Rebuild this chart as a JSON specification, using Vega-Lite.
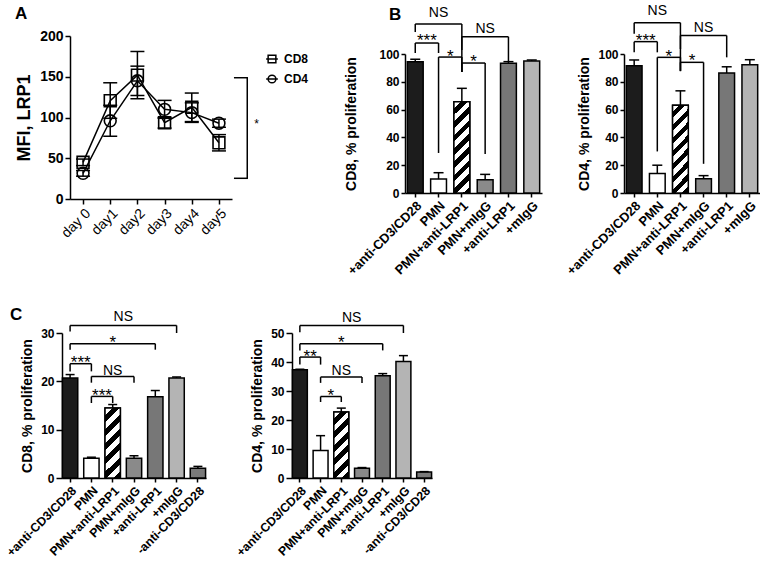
{
  "$schema": "https://vega.github.io/schema/vega-lite/v6.json",
  "padding": {"left": 4, "top": 4, "right": 0, "bottom": 1},
  "background": "white",
  "config": {
    "font": "Liberation Sans",
    "view": {"stroke": null},
    "axis": {"grid": false, "labelOverlap": false, "domainColor": "black", "domainWidth": 1.5, "tickColor": "black", "tickWidth": 1.5, "labelColor": "black", "labelFont": "Liberation Sans", "labelFontWeight": "bold", "labelFontSize": 12, "labelPadding": 2, "titleColor": "black", "titleFont": "Liberation Sans", "titleFontWeight": "bold", "titleFontSize": 14, "titlePadding": 6},
    "title": {"color": "black", "font": "Liberation Sans", "fontWeight": "bold", "fontSize": 17, "anchor": "start", "frame": "group"}
  },
  "datasets": {
    "lineA": [
      {"day": "day 0", "cell": "CD8", "mean": 45, "lo": 41, "hi": 49},
      {"day": "day1", "cell": "CD8", "mean": 120.6, "lo": 99, "hi": 142.6},
      {"day": "day2", "cell": "CD8", "mean": 152, "lo": 123, "hi": 181},
      {"day": "day3", "cell": "CD8", "mean": 93.6, "lo": 87, "hi": 100},
      {"day": "day4", "cell": "CD8", "mean": 112.5, "lo": 95, "hi": 130},
      {"day": "day5", "cell": "CD8", "mean": 69, "lo": 59, "hi": 79},
      {"day": "day 0", "cell": "CD4", "mean": 31.5, "lo": 28, "hi": 35},
      {"day": "day1", "cell": "CD4", "mean": 96, "lo": 77, "hi": 115},
      {"day": "day2", "cell": "CD4", "mean": 145, "lo": 127, "hi": 163},
      {"day": "day3", "cell": "CD4", "mean": 110, "lo": 99, "hi": 121},
      {"day": "day4", "cell": "CD4", "mean": 106, "lo": 94, "hi": 118},
      {"day": "day5", "cell": "CD4", "mean": 93, "lo": 88, "hi": 98}
    ],
    "brA": [{"day": "day5", "top": 148.8, "bot": 25.4, "label": "*", "ly": 86.6}],
    "barsB1": [
      {"cond": "+anti-CD3/CD28", "mean": 94.5, "hi": 96.2},
      {"cond": "PMN", "mean": 10, "hi": 14.6},
      {"cond": "PMN+anti-LRP1", "mean": 65.7, "hi": 75.3},
      {"cond": "PMN+mIgG", "mean": 9.6, "hi": 13.4},
      {"cond": "+anti-LRP1", "mean": 93.3, "hi": 94.5},
      {"cond": "+mIgG", "mean": 95, "hi": 95.7}
    ],
    "brB1": [
      {"a": "+anti-CD3/CD28", "b": "PMN+anti-LRP1", "top": 121.6, "la": 115.8, "lb": 87, "label": "NS", "mid": "PMN", "half": false, "ly": 126.8},
      {"a": "+anti-CD3/CD28", "b": "PMN", "top": 107.9, "la": 100.7, "lb": 100.7, "label": "***", "mid": "+anti-CD3/CD28", "half": true, "ly": 105.5},
      {"a": "PMN", "b": "PMN+anti-LRP1", "top": 97.8, "la": 28.8, "lb": 87, "label": "*", "mid": "PMN", "half": true, "ly": 94.2},
      {"a": "PMN+anti-LRP1", "b": "+anti-LRP1", "top": 112.4, "la": 102.9, "lb": 94.5, "label": "NS", "mid": "PMN+mIgG", "half": false, "ly": 115.3},
      {"a": "PMN+anti-LRP1", "b": "PMN+mIgG", "top": 93.5, "la": 87, "lb": 28, "label": "*", "mid": "PMN+anti-LRP1", "half": true, "ly": 90.6}
    ],
    "barsB2": [
      {"cond": "+anti-CD3/CD28", "mean": 91.5, "hi": 95.7},
      {"cond": "PMN", "mean": 14, "hi": 20},
      {"cond": "PMN+anti-LRP1", "mean": 63.1, "hi": 73.5},
      {"cond": "PMN+mIgG", "mean": 10.3, "hi": 12.5},
      {"cond": "+anti-LRP1", "mean": 86.3, "hi": 90.8},
      {"cond": "+mIgG", "mean": 92.3, "hi": 95.9}
    ],
    "brB2": [
      {"a": "+anti-CD3/CD28", "b": "PMN+anti-LRP1", "top": 122.5, "la": 114.5, "lb": 87.6, "label": "NS", "mid": "PMN", "half": false, "ly": 127.8},
      {"a": "+anti-CD3/CD28", "b": "PMN", "top": 108.9, "la": 101.2, "lb": 101.2, "label": "***", "mid": "+anti-CD3/CD28", "half": true, "ly": 105.8},
      {"a": "PMN", "b": "PMN+anti-LRP1", "top": 97.6, "la": 29.9, "lb": 87.9, "label": "*", "mid": "PMN", "half": true, "ly": 94.2},
      {"a": "PMN+anti-LRP1", "b": "+anti-LRP1", "top": 113.3, "la": 103.6, "lb": 97.6, "label": "NS", "mid": "PMN+mIgG", "half": false, "ly": 115.7},
      {"a": "PMN+anti-LRP1", "b": "PMN+mIgG", "top": 94, "la": 87.9, "lb": 21, "label": "*", "mid": "PMN+anti-LRP1", "half": true, "ly": 91.3}
    ],
    "barsC1": [
      {"cond": "+anti-CD3/CD28", "mean": 20.7, "hi": 21.4},
      {"cond": "PMN", "mean": 4.1, "hi": 4.3},
      {"cond": "PMN+anti-LRP1", "mean": 14.5, "hi": 15.2},
      {"cond": "PMN+mIgG", "mean": 4.1, "hi": 4.6},
      {"cond": "+anti-LRP1", "mean": 16.8, "hi": 18.1},
      {"cond": "+mIgG", "mean": 20.7, "hi": 20.9},
      {"cond": "-anti-CD3/CD28", "mean": 2.0, "hi": 2.4}
    ],
    "brC1": [
      {"a": "+anti-CD3/CD28", "b": "+mIgG", "top": 31.57, "la": 30.33, "lb": 30.0, "label": "NS", "mid": "PMN+anti-LRP1", "half": true, "ly": 32.4},
      {"a": "+anti-CD3/CD28", "b": "+anti-LRP1", "top": 27.79, "la": 26.55, "lb": 26.55, "label": "*", "mid": "PMN+anti-LRP1", "half": false, "ly": 27.0},
      {"a": "+anti-CD3/CD28", "b": "PMN", "top": 23.65, "la": 22.06, "lb": 22.06, "label": "***", "mid": "+anti-CD3/CD28", "half": true, "ly": 22.8},
      {"a": "PMN", "b": "PMN+mIgG", "top": 21.02, "la": 19.72, "lb": 19.72, "label": "NS", "mid": "PMN+anti-LRP1", "half": false, "ly": 21.4},
      {"a": "PMN", "b": "PMN+anti-LRP1", "top": 16.88, "la": 15.52, "lb": 15.52, "label": "***", "mid": "PMN", "half": true, "ly": 16.0}
    ],
    "barsC2": [
      {"cond": "+anti-CD3/CD28", "mean": 37.3, "hi": 37.5},
      {"cond": "PMN", "mean": 9.5, "hi": 14.6},
      {"cond": "PMN+anti-LRP1", "mean": 22.8, "hi": 24.1},
      {"cond": "PMN+mIgG", "mean": 3.4, "hi": 3.6},
      {"cond": "+anti-LRP1", "mean": 35.3, "hi": 36.0},
      {"cond": "+mIgG", "mean": 40.2, "hi": 42.2},
      {"cond": "-anti-CD3/CD28", "mean": 2.1, "hi": 2.2}
    ],
    "brC2": [
      {"a": "+anti-CD3/CD28", "b": "+mIgG", "top": 52.6, "la": 50.3, "lb": 50.0, "label": "NS", "mid": "PMN+anti-LRP1", "half": true, "ly": 53.8},
      {"a": "+anti-CD3/CD28", "b": "+anti-LRP1", "top": 46.3, "la": 44.0, "lb": 44.0, "label": "*", "mid": "PMN+anti-LRP1", "half": false, "ly": 44.9},
      {"a": "+anti-CD3/CD28", "b": "PMN", "top": 41.7, "la": 39.1, "lb": 39.1, "label": "**", "mid": "+anti-CD3/CD28", "half": true, "ly": 40.1},
      {"a": "PMN", "b": "PMN+mIgG", "top": 34.8, "la": 32.8, "lb": 32.8, "label": "NS", "mid": "PMN+anti-LRP1", "half": false, "ly": 35.4},
      {"a": "PMN", "b": "PMN+anti-LRP1", "top": 28.1, "la": 26.2, "lb": 26.2, "label": "*", "mid": "PMN", "half": true, "ly": 26.7}
    ]
  },
  "spacing": 28,
  "vconcat": [
    {
      "bounds": "flush",
      "spacing": 82,
      "hconcat": [
        {
          "width": 253,
          "height": 163,
          "title": {"text": "A", "dx": -55, "dy": -2},
          "layer": [
            {"data": {"name": "lineA"}, "mark": {"type": "line", "color": "black", "strokeWidth": 1.5},
             "encoding": {
               "x": {"field": "day", "type": "ordinal", "sort": null, "scale": {"type": "point", "domain": ["day 0", "day1", "day2", "day3", "day4", "day5"], "padding": 0.48, "range": [0, 162]}, "axis": {"title": null, "labelAngle": -45, "labelFontWeight": "normal", "labelFontSize": 14, "tickSize": 5}},
               "y": {"field": "mean", "type": "quantitative", "scale": {"domain": [0, 200], "nice": false}, "axis": {"title": "MFI, LRP1", "values": [0, 50, 100, 150, 200], "tickCount": 10, "labelOverlap": false, "labelFontSize": 14, "titleFontSize": 18, "tickSize": 5}},
               "detail": {"field": "cell", "type": "nominal"}}},
            {"data": {"name": "lineA"}, "mark": {"type": "rule", "color": "black", "strokeWidth": 1.5},
             "encoding": {"x": {"field": "day", "type": "ordinal"}, "y": {"field": "lo", "type": "quantitative"}, "y2": {"field": "hi"}}},
            {"data": {"name": "lineA"}, "mark": {"type": "tick", "color": "black", "size": 14, "thickness": 1.5, "opacity": 1},
             "encoding": {"x": {"field": "day", "type": "ordinal"}, "y": {"field": "lo", "type": "quantitative"}}},
            {"data": {"name": "lineA"}, "mark": {"type": "tick", "color": "black", "size": 14, "thickness": 1.5, "opacity": 1},
             "encoding": {"x": {"field": "day", "type": "ordinal"}, "y": {"field": "hi", "type": "quantitative"}}},
            {"data": {"name": "lineA"}, "transform": [{"filter": "datum.cell === 'CD8'"}], "mark": {"type": "point", "shape": "square", "filled": false, "color": "black", "strokeWidth": 1.6, "size": 140, "opacity": 1},
             "encoding": {"x": {"field": "day", "type": "ordinal"}, "y": {"field": "mean", "type": "quantitative"}}},
            {"data": {"name": "lineA"}, "transform": [{"filter": "datum.cell === 'CD4'"}], "mark": {"type": "point", "shape": "circle", "filled": false, "color": "black", "strokeWidth": 1.6, "size": 140, "opacity": 1},
             "encoding": {"x": {"field": "day", "type": "ordinal"}, "y": {"field": "mean", "type": "quantitative"}}},
            {"data": {"name": "lineA"}, "transform": [{"filter": "datum.cell === 'legend only'"}], "mark": {"type": "point", "filled": false, "color": "black", "strokeWidth": 1.5, "size": 137, "opacity": 1},
             "encoding": {"x": {"field": "day", "type": "ordinal"}, "y": {"field": "mean", "type": "quantitative"},
               "shape": {"field": "cell", "type": "nominal", "scale": {"domain": ["CD8", "CD4"], "range": ["M-1,0H1M-0.66,-0.66H0.66V0.66H-0.66Z", "M-1,0H1M0.66,0A0.66,0.66,0,1,1,-0.66,0A0.66,0.66,0,1,1,0.66,0"]},
                 "legend": {"title": null, "orient": "none", "legendX": 195, "legendY": 16, "padding": 0, "labelFontSize": 12, "labelFontWeight": "bold", "labelColor": "black", "labelFont": "Liberation Sans", "symbolSize": 137, "symbolStrokeWidth": 1.5, "symbolStrokeColor": "black", "symbolFillColor": "transparent", "symbolOpacity": 1, "rowPadding": 6, "labelOffset": 5}}}},
            {"data": {"name": "brA"}, "mark": {"type": "rule", "color": "black", "strokeWidth": 1.5, "xOffset": 28.3},
             "encoding": {"x": {"field": "day", "type": "ordinal"}, "y": {"field": "top", "type": "quantitative"}, "y2": {"field": "bot"}}},
            {"data": {"name": "brA"}, "mark": {"type": "rule", "color": "black", "strokeWidth": 1.5, "xOffset": 15, "x2Offset": 29},
             "encoding": {"x": {"field": "day", "type": "ordinal"}, "x2": {"field": "day"}, "y": {"field": "top", "type": "quantitative"}}},
            {"data": {"name": "brA"}, "mark": {"type": "rule", "color": "black", "strokeWidth": 1.5, "xOffset": 15, "x2Offset": 29},
             "encoding": {"x": {"field": "day", "type": "ordinal"}, "x2": {"field": "day"}, "y": {"field": "bot", "type": "quantitative"}}},
            {"data": {"name": "brA"}, "mark": {"type": "text", "color": "black", "fontSize": 12, "dx": 37.6, "align": "center", "baseline": "alphabetic"},
             "encoding": {"x": {"field": "day", "type": "ordinal"}, "y": {"field": "ly", "type": "quantitative"}, "text": {"field": "label"}}}
          ]
        },
        {
          "width": 137,
          "height": 163,
          "title": {"text": "B", "dx": -16, "dy": 22},
          "layer": [
            {"data": {"name": "barsB1"}, "mark": {"type": "bar", "stroke": "black", "strokeWidth": 1.5},
             "encoding": {
               "x": {"field": "cond", "type": "nominal", "sort": null, "scale": {"domain": ["+anti-CD3/CD28", "PMN", "PMN+anti-LRP1", "PMN+mIgG", "+anti-LRP1", "+mIgG"], "paddingInner": 0.32, "paddingOuter": 0.1}, "axis": {"title": null, "labelAngle": -45, "labelFontSize": 13, "tickSize": 4, "offset": -6}},
               "y": {"field": "mean", "type": "quantitative", "scale": {"domain": [0, 100], "nice": false, "range": [157, 18]}, "axis": {"title": "CD8, % proliferation", "values": [0, 20, 40, 60, 80, 100], "tickCount": 10, "labelOverlap": false, "tickSize": 4, "titlePadding": 20}},
               "fill": {"field": "cond", "type": "nominal", "scale": {"domain": ["+anti-CD3/CD28", "PMN", "PMN+anti-LRP1", "PMN+mIgG", "+anti-LRP1", "+mIgG", "-anti-CD3/CD28"], "range": ["#1c1c1c", "#ffffff", "#ffffff", "#8a8a8a", "#777777", "#b4b4b4", "#7a7a7a"]}, "legend": null}}},
            {"data": {"name": "barsB1"}, "transform": [{"filter": "datum.cond === 'PMN+anti-LRP1'"}],
             "mark": {"type": "bar", "stroke": "black", "strokeWidth": 1.5,
               "fill": {"gradient": "linear", "x1": 0, "y1": 0, "x2": 0.196, "y2": 1.138, "stops": [
                 {"offset": 0, "color": "white"}, {"offset": 0.0625, "color": "white"}, {"offset": 0.0625, "color": "black"}, {"offset": 0.125, "color": "black"},
                 {"offset": 0.125, "color": "white"}, {"offset": 0.1875, "color": "white"}, {"offset": 0.1875, "color": "black"}, {"offset": 0.25, "color": "black"},
                 {"offset": 0.25, "color": "white"}, {"offset": 0.3125, "color": "white"}, {"offset": 0.3125, "color": "black"}, {"offset": 0.375, "color": "black"},
                 {"offset": 0.375, "color": "white"}, {"offset": 0.4375, "color": "white"}, {"offset": 0.4375, "color": "black"}, {"offset": 0.5, "color": "black"},
                 {"offset": 0.5, "color": "white"}, {"offset": 0.5625, "color": "white"}, {"offset": 0.5625, "color": "black"}, {"offset": 0.625, "color": "black"},
                 {"offset": 0.625, "color": "white"}, {"offset": 0.6875, "color": "white"}, {"offset": 0.6875, "color": "black"}, {"offset": 0.75, "color": "black"},
                 {"offset": 0.75, "color": "white"}, {"offset": 0.8125, "color": "white"}, {"offset": 0.8125, "color": "black"}, {"offset": 0.875, "color": "black"},
                 {"offset": 0.875, "color": "white"}, {"offset": 0.9375, "color": "white"}, {"offset": 0.9375, "color": "black"}, {"offset": 1, "color": "black"}]}},
             "encoding": {"x": {"field": "cond", "type": "nominal"}, "y": {"field": "mean", "type": "quantitative"}}},
            {"data": {"name": "barsB1"}, "mark": {"type": "rule", "color": "black", "strokeWidth": 1.5},
             "encoding": {"x": {"field": "cond", "type": "nominal"}, "y": {"field": "mean", "type": "quantitative"}, "y2": {"field": "hi"}}},
            {"data": {"name": "barsB1"}, "mark": {"type": "tick", "color": "black", "size": 10, "thickness": 1.5, "opacity": 1},
             "encoding": {"x": {"field": "cond", "type": "nominal"}, "y": {"field": "hi", "type": "quantitative"}}},
            {"data": {"name": "brB1"}, "mark": {"type": "rule", "color": "black", "strokeWidth": 1.5},
             "encoding": {"x": {"field": "a", "type": "nominal"}, "x2": {"field": "b"}, "y": {"field": "top", "type": "quantitative"}}},
            {"data": {"name": "brB1"}, "mark": {"type": "rule", "color": "black", "strokeWidth": 1.5},
             "encoding": {"x": {"field": "a", "type": "nominal"}, "y": {"field": "top", "type": "quantitative"}, "y2": {"field": "la"}}},
            {"data": {"name": "brB1"}, "mark": {"type": "rule", "color": "black", "strokeWidth": 1.5},
             "encoding": {"x": {"field": "b", "type": "nominal"}, "y": {"field": "top", "type": "quantitative"}, "y2": {"field": "lb"}}},
            {"data": {"name": "brB1"}, "transform": [{"filter": "!datum.half"}], "mark": {"type": "text", "color": "black", "align": "center", "baseline": "alphabetic"},
             "encoding": {"x": {"field": "mid", "type": "nominal"}, "y": {"field": "ly", "type": "quantitative"}, "text": {"field": "label"}, "size": {"condition": {"test": "datum.label === 'NS'", "value": 14}, "value": 17}}},
            {"data": {"name": "brB1"}, "transform": [{"filter": "datum.half"}], "mark": {"type": "text", "color": "black", "align": "center", "baseline": "alphabetic"},
             "encoding": {"x": {"field": "mid", "type": "nominal", "bandPosition": 1.235}, "y": {"field": "ly", "type": "quantitative"}, "text": {"field": "label"}, "size": {"condition": {"test": "datum.label === 'NS'", "value": 14}, "value": 17}}}
          ]
        },
        {
          "width": 136,
          "height": 163,
          "layer": [
            {"data": {"name": "barsB2"}, "mark": {"type": "bar", "stroke": "black", "strokeWidth": 1.5},
             "encoding": {
               "x": {"field": "cond", "type": "nominal", "sort": null, "scale": {"domain": ["+anti-CD3/CD28", "PMN", "PMN+anti-LRP1", "PMN+mIgG", "+anti-LRP1", "+mIgG"], "paddingInner": 0.32, "paddingOuter": 0.1}, "axis": {"title": null, "labelAngle": -45, "labelFontSize": 13, "tickSize": 4, "offset": -6}},
               "y": {"field": "mean", "type": "quantitative", "scale": {"domain": [0, 100], "nice": false, "range": [157, 18]}, "axis": {"title": "CD4, % proliferation", "values": [0, 20, 40, 60, 80, 100], "tickCount": 10, "labelOverlap": false, "tickSize": 4}},
               "fill": {"field": "cond", "type": "nominal", "scale": {"domain": ["+anti-CD3/CD28", "PMN", "PMN+anti-LRP1", "PMN+mIgG", "+anti-LRP1", "+mIgG", "-anti-CD3/CD28"], "range": ["#1c1c1c", "#ffffff", "#ffffff", "#8a8a8a", "#777777", "#b4b4b4", "#7a7a7a"]}, "legend": null}}},
            {"data": {"name": "barsB2"}, "transform": [{"filter": "datum.cond === 'PMN+anti-LRP1'"}],
             "mark": {"type": "bar", "stroke": "black", "strokeWidth": 1.5,
               "fill": {"gradient": "linear", "x1": 0, "y1": 0, "x2": 0.21, "y2": 1.145, "stops": [
                 {"offset": 0, "color": "white"}, {"offset": 0.0625, "color": "white"}, {"offset": 0.0625, "color": "black"}, {"offset": 0.125, "color": "black"},
                 {"offset": 0.125, "color": "white"}, {"offset": 0.1875, "color": "white"}, {"offset": 0.1875, "color": "black"}, {"offset": 0.25, "color": "black"},
                 {"offset": 0.25, "color": "white"}, {"offset": 0.3125, "color": "white"}, {"offset": 0.3125, "color": "black"}, {"offset": 0.375, "color": "black"},
                 {"offset": 0.375, "color": "white"}, {"offset": 0.4375, "color": "white"}, {"offset": 0.4375, "color": "black"}, {"offset": 0.5, "color": "black"},
                 {"offset": 0.5, "color": "white"}, {"offset": 0.5625, "color": "white"}, {"offset": 0.5625, "color": "black"}, {"offset": 0.625, "color": "black"},
                 {"offset": 0.625, "color": "white"}, {"offset": 0.6875, "color": "white"}, {"offset": 0.6875, "color": "black"}, {"offset": 0.75, "color": "black"},
                 {"offset": 0.75, "color": "white"}, {"offset": 0.8125, "color": "white"}, {"offset": 0.8125, "color": "black"}, {"offset": 0.875, "color": "black"},
                 {"offset": 0.875, "color": "white"}, {"offset": 0.9375, "color": "white"}, {"offset": 0.9375, "color": "black"}, {"offset": 1, "color": "black"}]}},
             "encoding": {"x": {"field": "cond", "type": "nominal"}, "y": {"field": "mean", "type": "quantitative"}}},
            {"data": {"name": "barsB2"}, "mark": {"type": "rule", "color": "black", "strokeWidth": 1.5},
             "encoding": {"x": {"field": "cond", "type": "nominal"}, "y": {"field": "mean", "type": "quantitative"}, "y2": {"field": "hi"}}},
            {"data": {"name": "barsB2"}, "mark": {"type": "tick", "color": "black", "size": 10, "thickness": 1.5, "opacity": 1},
             "encoding": {"x": {"field": "cond", "type": "nominal"}, "y": {"field": "hi", "type": "quantitative"}}},
            {"data": {"name": "brB2"}, "mark": {"type": "rule", "color": "black", "strokeWidth": 1.5},
             "encoding": {"x": {"field": "a", "type": "nominal"}, "x2": {"field": "b"}, "y": {"field": "top", "type": "quantitative"}}},
            {"data": {"name": "brB2"}, "mark": {"type": "rule", "color": "black", "strokeWidth": 1.5},
             "encoding": {"x": {"field": "a", "type": "nominal"}, "y": {"field": "top", "type": "quantitative"}, "y2": {"field": "la"}}},
            {"data": {"name": "brB2"}, "mark": {"type": "rule", "color": "black", "strokeWidth": 1.5},
             "encoding": {"x": {"field": "b", "type": "nominal"}, "y": {"field": "top", "type": "quantitative"}, "y2": {"field": "lb"}}},
            {"data": {"name": "brB2"}, "transform": [{"filter": "!datum.half"}], "mark": {"type": "text", "color": "black", "align": "center", "baseline": "alphabetic"},
             "encoding": {"x": {"field": "mid", "type": "nominal"}, "y": {"field": "ly", "type": "quantitative"}, "text": {"field": "label"}, "size": {"condition": {"test": "datum.label === 'NS'", "value": 14}, "value": 17}}},
            {"data": {"name": "brB2"}, "transform": [{"filter": "datum.half"}], "mark": {"type": "text", "color": "black", "align": "center", "baseline": "alphabetic"},
             "encoding": {"x": {"field": "mid", "type": "nominal", "bandPosition": 1.235}, "y": {"field": "ly", "type": "quantitative"}, "text": {"field": "label"}, "size": {"condition": {"test": "datum.label === 'NS'", "value": 14}, "value": 17}}}
          ]
        }
      ]
    },
    {
      "bounds": "flush",
      "spacing": 82,
      "hconcat": [
        {
          "width": 140,
          "height": 145,
          "title": {"text": "C", "dx": -60, "dy": 18},
          "layer": [
            {"data": {"name": "barsC1"}, "mark": {"type": "bar", "stroke": "black", "strokeWidth": 1.5},
             "encoding": {
               "x": {"field": "cond", "type": "nominal", "sort": null, "scale": {"domain": ["+anti-CD3/CD28", "PMN", "PMN+anti-LRP1", "PMN+mIgG", "+anti-LRP1", "+mIgG", "-anti-CD3/CD28"], "paddingInner": 0.28, "paddingOuter": 0.02, "range": [-8, 136]}, "axis": {"title": null, "labelAngle": -45, "labelFontSize": 12.3, "tickSize": 4}},
               "y": {"field": "mean", "type": "quantitative", "scale": {"domain": [0, 30], "nice": false}, "axis": {"title": "CD8, % proliferation", "values": [0, 10, 20, 30], "tickCount": 10, "labelOverlap": false, "tickSize": 6, "offset": 8}},
               "fill": {"field": "cond", "type": "nominal", "scale": {"domain": ["+anti-CD3/CD28", "PMN", "PMN+anti-LRP1", "PMN+mIgG", "+anti-LRP1", "+mIgG", "-anti-CD3/CD28"], "range": ["#1c1c1c", "#ffffff", "#ffffff", "#8a8a8a", "#777777", "#b4b4b4", "#7a7a7a"]}, "legend": null}}},
            {"data": {"name": "barsC1"}, "transform": [{"filter": "datum.cond === 'PMN+anti-LRP1'"}],
             "mark": {"type": "bar", "stroke": "black", "strokeWidth": 1.5,
               "fill": {"gradient": "linear", "x1": 0, "y1": 0, "x2": 0.254, "y2": 1.163, "stops": [
                 {"offset": 0, "color": "white"}, {"offset": 0.0833, "color": "white"}, {"offset": 0.0833, "color": "black"}, {"offset": 0.1667, "color": "black"},
                 {"offset": 0.1667, "color": "white"}, {"offset": 0.25, "color": "white"}, {"offset": 0.25, "color": "black"}, {"offset": 0.3333, "color": "black"},
                 {"offset": 0.3333, "color": "white"}, {"offset": 0.4167, "color": "white"}, {"offset": 0.4167, "color": "black"}, {"offset": 0.5, "color": "black"},
                 {"offset": 0.5, "color": "white"}, {"offset": 0.5833, "color": "white"}, {"offset": 0.5833, "color": "black"}, {"offset": 0.6667, "color": "black"},
                 {"offset": 0.6667, "color": "white"}, {"offset": 0.75, "color": "white"}, {"offset": 0.75, "color": "black"}, {"offset": 0.8333, "color": "black"},
                 {"offset": 0.8333, "color": "white"}, {"offset": 0.9167, "color": "white"}, {"offset": 0.9167, "color": "black"}, {"offset": 1, "color": "black"}]}},
             "encoding": {"x": {"field": "cond", "type": "nominal"}, "y": {"field": "mean", "type": "quantitative"}}},
            {"data": {"name": "barsC1"}, "mark": {"type": "rule", "color": "black", "strokeWidth": 1.5},
             "encoding": {"x": {"field": "cond", "type": "nominal"}, "y": {"field": "mean", "type": "quantitative"}, "y2": {"field": "hi"}}},
            {"data": {"name": "barsC1"}, "mark": {"type": "tick", "color": "black", "size": 9, "thickness": 1.5, "opacity": 1},
             "encoding": {"x": {"field": "cond", "type": "nominal"}, "y": {"field": "hi", "type": "quantitative"}}},
            {"data": {"name": "brC1"}, "mark": {"type": "rule", "color": "black", "strokeWidth": 1.5},
             "encoding": {"x": {"field": "a", "type": "nominal"}, "x2": {"field": "b"}, "y": {"field": "top", "type": "quantitative"}}},
            {"data": {"name": "brC1"}, "mark": {"type": "rule", "color": "black", "strokeWidth": 1.5},
             "encoding": {"x": {"field": "a", "type": "nominal"}, "y": {"field": "top", "type": "quantitative"}, "y2": {"field": "la"}}},
            {"data": {"name": "brC1"}, "mark": {"type": "rule", "color": "black", "strokeWidth": 1.5},
             "encoding": {"x": {"field": "b", "type": "nominal"}, "y": {"field": "top", "type": "quantitative"}, "y2": {"field": "lb"}}},
            {"data": {"name": "brC1"}, "transform": [{"filter": "!datum.half"}], "mark": {"type": "text", "color": "black", "align": "center", "baseline": "alphabetic"},
             "encoding": {"x": {"field": "mid", "type": "nominal"}, "y": {"field": "ly", "type": "quantitative"}, "text": {"field": "label"}, "size": {"condition": {"test": "datum.label === 'NS'", "value": 14}, "value": 17}}},
            {"data": {"name": "brC1"}, "transform": [{"filter": "datum.half"}], "mark": {"type": "text", "color": "black", "align": "center", "baseline": "alphabetic"},
             "encoding": {"x": {"field": "mid", "type": "nominal", "bandPosition": 1.194}, "y": {"field": "ly", "type": "quantitative"}, "text": {"field": "label"}, "size": {"condition": {"test": "datum.label === 'NS'", "value": 14}, "value": 17}}}
          ]
        },
        {
          "width": 140,
          "height": 145,
          "layer": [
            {"data": {"name": "barsC2"}, "mark": {"type": "bar", "stroke": "black", "strokeWidth": 1.5},
             "encoding": {
               "x": {"field": "cond", "type": "nominal", "sort": null, "scale": {"domain": ["+anti-CD3/CD28", "PMN", "PMN+anti-LRP1", "PMN+mIgG", "+anti-LRP1", "+mIgG", "-anti-CD3/CD28"], "paddingInner": 0.28, "paddingOuter": 0.02}, "axis": {"title": null, "labelAngle": -45, "labelFontSize": 12.3, "tickSize": 4}},
               "y": {"field": "mean", "type": "quantitative", "scale": {"domain": [0, 50], "nice": false}, "axis": {"title": "CD4, % proliferation", "values": [0, 10, 20, 30, 40, 50], "tickCount": 10, "labelOverlap": false, "tickSize": 6}},
               "fill": {"field": "cond", "type": "nominal", "scale": {"domain": ["+anti-CD3/CD28", "PMN", "PMN+anti-LRP1", "PMN+mIgG", "+anti-LRP1", "+mIgG", "-anti-CD3/CD28"], "range": ["#1c1c1c", "#ffffff", "#ffffff", "#8a8a8a", "#777777", "#b4b4b4", "#7a7a7a"]}, "legend": null}}},
            {"data": {"name": "barsC2"}, "transform": [{"filter": "datum.cond === 'PMN+anti-LRP1'"}],
             "mark": {"type": "bar", "stroke": "black", "strokeWidth": 1.5,
               "fill": {"gradient": "linear", "x1": 0, "y1": 0, "x2": 0.263, "y2": 1.166, "stops": [
                 {"offset": 0, "color": "white"}, {"offset": 0.0833, "color": "white"}, {"offset": 0.0833, "color": "black"}, {"offset": 0.1667, "color": "black"},
                 {"offset": 0.1667, "color": "white"}, {"offset": 0.25, "color": "white"}, {"offset": 0.25, "color": "black"}, {"offset": 0.3333, "color": "black"},
                 {"offset": 0.3333, "color": "white"}, {"offset": 0.4167, "color": "white"}, {"offset": 0.4167, "color": "black"}, {"offset": 0.5, "color": "black"},
                 {"offset": 0.5, "color": "white"}, {"offset": 0.5833, "color": "white"}, {"offset": 0.5833, "color": "black"}, {"offset": 0.6667, "color": "black"},
                 {"offset": 0.6667, "color": "white"}, {"offset": 0.75, "color": "white"}, {"offset": 0.75, "color": "black"}, {"offset": 0.8333, "color": "black"},
                 {"offset": 0.8333, "color": "white"}, {"offset": 0.9167, "color": "white"}, {"offset": 0.9167, "color": "black"}, {"offset": 1, "color": "black"}]}},
             "encoding": {"x": {"field": "cond", "type": "nominal"}, "y": {"field": "mean", "type": "quantitative"}}},
            {"data": {"name": "barsC2"}, "mark": {"type": "rule", "color": "black", "strokeWidth": 1.5},
             "encoding": {"x": {"field": "cond", "type": "nominal"}, "y": {"field": "mean", "type": "quantitative"}, "y2": {"field": "hi"}}},
            {"data": {"name": "barsC2"}, "mark": {"type": "tick", "color": "black", "size": 9, "thickness": 1.5, "opacity": 1},
             "encoding": {"x": {"field": "cond", "type": "nominal"}, "y": {"field": "hi", "type": "quantitative"}}},
            {"data": {"name": "brC2"}, "mark": {"type": "rule", "color": "black", "strokeWidth": 1.5},
             "encoding": {"x": {"field": "a", "type": "nominal"}, "x2": {"field": "b"}, "y": {"field": "top", "type": "quantitative"}}},
            {"data": {"name": "brC2"}, "mark": {"type": "rule", "color": "black", "strokeWidth": 1.5},
             "encoding": {"x": {"field": "a", "type": "nominal"}, "y": {"field": "top", "type": "quantitative"}, "y2": {"field": "la"}}},
            {"data": {"name": "brC2"}, "mark": {"type": "rule", "color": "black", "strokeWidth": 1.5},
             "encoding": {"x": {"field": "b", "type": "nominal"}, "y": {"field": "top", "type": "quantitative"}, "y2": {"field": "lb"}}},
            {"data": {"name": "brC2"}, "transform": [{"filter": "!datum.half"}], "mark": {"type": "text", "color": "black", "align": "center", "baseline": "alphabetic"},
             "encoding": {"x": {"field": "mid", "type": "nominal"}, "y": {"field": "ly", "type": "quantitative"}, "text": {"field": "label"}, "size": {"condition": {"test": "datum.label === 'NS'", "value": 14}, "value": 17}}},
            {"data": {"name": "brC2"}, "transform": [{"filter": "datum.half"}], "mark": {"type": "text", "color": "black", "align": "center", "baseline": "alphabetic"},
             "encoding": {"x": {"field": "mid", "type": "nominal", "bandPosition": 1.194}, "y": {"field": "ly", "type": "quantitative"}, "text": {"field": "label"}, "size": {"condition": {"test": "datum.label === 'NS'", "value": 14}, "value": 17}}}
          ]
        }
      ]
    }
  ]
}
